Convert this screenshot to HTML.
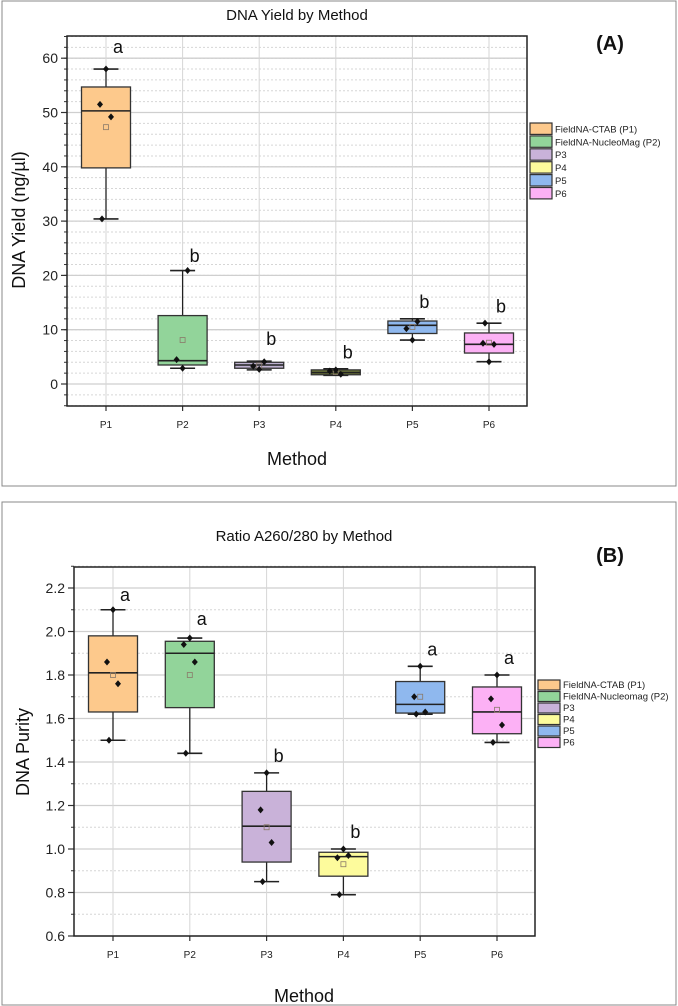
<!DOCTYPE html>
<html><head><meta charset="utf-8">
<style>
body{margin:0;background:#fff;font-family:"Liberation Sans",Arial,sans-serif;}
svg{display:block}
</style></head>
<body>
<svg id="fig" width="678" height="1006" viewBox="0 0 678 1006">
<rect x="2" y="1" width="674" height="485" fill="none" stroke="#888" stroke-width="1"/>
<rect x="2" y="502" width="674" height="503" fill="none" stroke="#888" stroke-width="1"/>
</svg>
<script>
const categories=["P1","P2","P3","P4","P5","P6"];
const colors=["#fdc98c","#92d49a","#c9b2d9","#fdfb9c","#8fb8ee","#fcb1f5"];
const colorsA=["#fdc98c","#92d49a","#bdb1cf","#6f7a3a","#8fb8ee","#fcb1f5"];
// Panel A: DNA yield
const yieldMin=[30.4,2.9,2.6,1.6,8.1,4.1];
const yieldQ1=[39.8,3.5,2.9,1.7,9.3,5.7];
const yieldMed=[50.3,4.3,3.5,2.1,10.8,7.3];
const yieldQ3=[54.7,12.6,4.0,2.6,11.6,9.4];
const yieldMax=[58.0,20.9,4.2,2.8,12.0,11.2];
const yieldMean=[47.3,8.1,3.4,2.2,10.5,7.6];
const yieldPts=[[51.5,49.2,58.0,30.4],[4.5,20.9,2.9],[3.3,4.1,2.7],[2.4,1.8,2.6],[10.2,11.5,8.1],[7.5,7.3,4.1,11.2]];
const yieldLetters=["a","b","b","b","b","b"];
const yieldLetterY=[61,22.5,7.2,4.7,14,13.2];
const yieldTicks=[0,10,20,30,40,50,60];
const legendA=["FieldNA-CTAB (P1)","FieldNA-NucleoMag (P2)","P3","P4","P5","P6"];
// Panel B: purity
const purMin=[1.50,1.44,0.85,0.79,1.62,1.49];
const purQ1=[1.63,1.65,0.94,0.875,1.625,1.53];
const purMed=[1.81,1.90,1.105,0.965,1.665,1.63];
const purQ3=[1.98,1.955,1.265,0.985,1.77,1.745];
const purMax=[2.10,1.97,1.35,1.00,1.84,1.80];
const purMean=[1.80,1.80,1.10,0.93,1.70,1.64];
const purPts=[[1.86,1.76,2.10,1.50],[1.94,1.86,1.97,1.44],[1.18,1.03,1.35,0.85],[0.96,0.97,1.00,0.79],[1.70,1.63,1.84,1.62],[1.69,1.57,1.80,1.49]];
const purLetters=["a","a","b","b","a","a"];
const purLetterY=[2.14,2.03,1.40,1.05,1.89,1.85];
const purTicks=[0.6,0.8,1.0,1.2,1.4,1.6,1.8,2.0,2.2];
const legendB=["FieldNA-CTAB (P1)","FieldNA-Nucleomag (P2)","P3","P4","P5","P6"];

const NS="http://www.w3.org/2000/svg";
const svg=document.getElementById("fig");
function mk(tag,attrs,parent,text){const e=document.createElementNS(NS,tag);for(const k in attrs)e.setAttribute(k,attrs[k]);if(text!==undefined)e.textContent=text;(parent||svg).appendChild(e);return e;}

function panel(p){
  const g=mk("g",{});
  
  
  const y=v=>p.y0+(v-p.vmin)/(p.vmax-p.vmin)*(p.y1-p.y0);
  const x=i=>p.xc0+i*p.dx;
  // minor grid
  for(let v=p.vmin;v<=p.vmax+1e-9;v+=p.minor){
    const yy=y(v);
    const l=mk("line",{x1:p.left,x2:p.right,y1:yy,y2:yy,stroke:"#d6d6d6","stroke-dasharray":"2,2","stroke-width":1},g);
    
    
    const t=mk("line",{x1:p.left-3,x2:p.left,y1:yy,y2:yy,stroke:"#333","stroke-width":1},g);
    
    
  }
  p.ticks.forEach(v=>{
    const yy=y(v);
    const l=mk("line",{x1:p.left,x2:p.right,y1:yy,y2:yy,stroke:"#cfcfcf","stroke-width":1.3},g);
    
    
    const t=mk("line",{x1:p.left-6,x2:p.left,y1:yy,y2:yy,stroke:"#333","stroke-width":1.2},g);
    
    
    const lb=mk("text",{x:p.left-9,y:yy+5,"text-anchor":"end","font-size":14,fill:"#222"},g,p.fmt(v));
    
    
  });
  categories.forEach((c,i)=>{
    const xx=x(i);
    const l=mk("line",{x1:xx,x2:xx,y1:p.top,y2:p.bottom,stroke:"#d6d6d6","stroke-width":1},g);
    
    
    const t=mk("line",{x1:xx,x2:xx,y1:p.bottom,y2:p.bottom+5,stroke:"#333","stroke-width":1.2},g);
    
    
    const lb=mk("text",{x:xx,y:p.bottom+22,"text-anchor":"middle","font-size":10,fill:"#222"},g,c);
    
    
  });
  // boxes
  categories.forEach((c,i)=>{
    const xx=x(i),bw=49,cw=25;
    const bg=mk("g",{},g);
    
    
    mk("line",{x1:xx,x2:xx,y1:y(p.max[i]),y2:y(p.q3[i]),stroke:"#222","stroke-width":1.3},bg);
    mk("line",{x1:xx,x2:xx,y1:y(p.q1[i]),y2:y(p.min[i]),stroke:"#222","stroke-width":1.3},bg);
    mk("line",{x1:xx-cw/2,x2:xx+cw/2,y1:y(p.max[i]),y2:y(p.max[i]),stroke:"#222","stroke-width":1.6},bg);
    mk("line",{x1:xx-cw/2,x2:xx+cw/2,y1:y(p.min[i]),y2:y(p.min[i]),stroke:"#222","stroke-width":1.6},bg);
    mk("rect",{x:xx-bw/2,y:y(p.q3[i]),width:bw,height:Math.max(1,y(p.q1[i])-y(p.q3[i])),fill:p.colors[i],stroke:"#333","stroke-width":1.3},bg);
    mk("line",{x1:xx-bw/2,x2:xx+bw/2,y1:y(p.med[i]),y2:y(p.med[i]),stroke:"#222","stroke-width":1.6},bg);
    mk("rect",{x:xx-2.5,y:y(p.mean[i])-2.5,width:5,height:5,fill:"none",stroke:"#8a7a6a","stroke-width":0.8},bg);
    p.pts[i].forEach((v,k)=>{
      const px=xx+[-6,5,0,-4][k%4];
      const d=mk("path",{d:`M${px} ${y(v)-3.5}L${px+3} ${y(v)}L${px} ${y(v)+3.5}L${px-3} ${y(v)}Z`,fill:"#111"},bg);
      
      
    });
    const lt=mk("text",{x:xx+12,y:y(p.letterY[i]),"text-anchor":"middle","font-size":18,fill:"#111"},g,p.letters[i]);
    
    
  });
  const fr=mk("rect",{x:p.left,y:p.top,width:p.right-p.left,height:p.bottom-p.top,fill:"none",stroke:"#222","stroke-width":1.5},g);
  
  
  const tt=mk("text",{x:p.titleX,y:p.titleY,"text-anchor":"middle","font-size":15,fill:"#111"},g,p.title);
  
  
  const pl=mk("text",{x:610,y:p.tagY,"text-anchor":"middle","font-size":20,"font-weight":"bold",fill:"#111"},g,p.tag);
  
  
  const xt=mk("text",{x:p.titleX,y:p.xtY,"text-anchor":"middle","font-size":18,fill:"#111"},g,"Method");
  
  
  const yt=mk("text",{x:0,y:0,"text-anchor":"middle","font-size":18,fill:"#111",transform:`translate(${p.ytX},${p.ytY}) rotate(-90)`},g,p.ytitle);
  
  
  p.legend.forEach((t,i)=>{
    const ly=p.legY+i*p.legDy;
    const le=mk("g",{},g);
    
    
    mk("rect",{x:p.legX,y:ly,width:22,height:p.legDy-1.5,fill:colors[i],stroke:"#333","stroke-width":1.2},le);
    mk("text",{x:p.legX+25,y:ly+p.legDy-3.5,"font-size":9.5,fill:"#222"},le,t);
  });
}
panel({id:"yield",vmin:-4,vmax:64.2,y0:384+4*5.43,y1:384-64.2*5.43,left:67,right:527,top:36,bottom:406,xc0:106,dx:76.6,
  minor:2,ticks:yieldTicks,fmt:v=>String(v),min:yieldMin,q1:yieldQ1,med:yieldMed,q3:yieldQ3,max:yieldMax,mean:yieldMean,pts:yieldPts,
  letters:yieldLetters,letterY:yieldLetterY,colors:colorsA,title:"DNA Yield by Method",titleX:297,titleY:20,tag:"(A)",tagY:50,
  xtY:465,ytX:25,ytY:220,ytitle:"DNA Yield (ng/µl)",legend:legendA,legX:530,legY:123,legDy:12.9});
panel({id:"purity",vmin:0.6,vmax:2.3,y0:936,y1:936-1.7*217.5,left:74,right:535,top:567,bottom:936,xc0:113,dx:76.8,
  minor:0.1,ticks:purTicks,fmt:v=>v.toFixed(1),min:purMin,q1:purQ1,med:purMed,q3:purQ3,max:purMax,mean:purMean,pts:purPts,
  letters:purLetters,letterY:purLetterY,colors:colors,title:"Ratio A260/280 by Method",titleX:304,titleY:541,tag:"(B)",tagY:562,
  xtY:1002,ytX:29,ytY:752,ytitle:"DNA Purity",legend:legendB,legX:538,legY:680,legDy:11.5});
</script>
</body></html>
